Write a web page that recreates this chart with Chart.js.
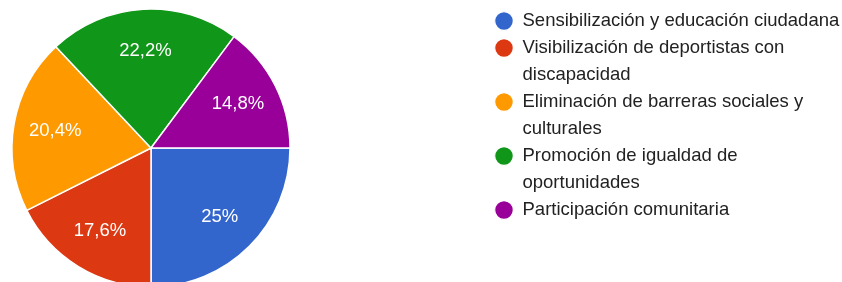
<!DOCTYPE html>
<html>
<head>
<meta charset="utf-8">
<script src="https://cdn.jsdelivr.net/npm/chart.js@4.4.1/dist/chart.umd.min.js"></script>
<style>
  html, body { margin: 0; padding: 0; background: #fff; overflow: hidden; }
</style>
</head>
<body>
<canvas id="pieChart" width="842" height="282"></canvas>
<script>
// categories (wrapped the way the legend shows them)
const labels = [
  ["Sensibilización y educación ciudadana"],
  ["Visibilización de deportistas con", "discapacidad"],
  ["Eliminación de barreras sociales y", "culturales"],
  ["Promoción de igualdad de", "oportunidades"],
  ["Participación comunitaria"]
];
// share of answers, in %
const percentages = [25, 17.6, 20.4, 22.2, 14.8];
const colors = ["#3366cc", "#dc3912", "#ff9900", "#109618", "#990099"];

const fontFamily = "'Liberation Sans', Arial, Helvetica, sans-serif";
Chart.defaults.font.family = fontFamily;

function formatPct(v) {
  return v.toFixed(1).replace(/\.0$/, "").replace(".", ",") + "%";
}

// legend box gets a fixed width so it starts where the reference has it,
// and the pie area is re-centred so the pie sits at the far left
const placeBoxes = {
  id: "placeBoxes",
  beforeInit(chart) {
    const fit = chart.legend.fit;
    chart.legend.fit = function () {
      fit.call(this);
      this.width = 347.25;
    };
  },
  afterLayout(chart) {
    const a = chart.chartArea;
    a.left = 2 * 151 - a.right;
    a.bottom = 2 * 148 - a.top;
    a.width = a.right - a.left;
    a.height = a.bottom - a.top;
  }
};

// percentage text inside each slice
const sliceLabels = {
  id: "sliceLabels",
  afterDatasetsDraw(chart) {
    const ctx = chart.ctx;
    const meta = chart.getDatasetMeta(0);
    ctx.save();
    ctx.fillStyle = "#fff";
    ctx.font = "18.5px " + fontFamily;
    ctx.textAlign = "center";
    ctx.textBaseline = "middle";
    meta.data.forEach(function (arc, i) {
      const p = arc.getProps(["x", "y", "startAngle", "endAngle", "outerRadius"], true);
      const mid = (p.startAngle + p.endAngle) / 2;
      const r = p.outerRadius * 0.7;
      ctx.fillText(formatPct(percentages[i]), p.x + Math.cos(mid) * r, p.y + Math.sin(mid) * r);
    });
    ctx.restore();
  }
};

new Chart(document.getElementById("pieChart").getContext("2d"), {
  type: "pie",
  data: {
    labels: labels,
    datasets: [
      {
        data: percentages,
        backgroundColor: colors,
        borderColor: "#ffffff",
        borderWidth: 1.5,
        radius: 139,
        hoverOffset: 0,
        clip: false,
      },
    ],
  },
  options: {
    responsive: false,
    animation: false,
    rotation: 90,
    layout: {
      padding: { left: 0, right: 0, top: 11.75, bottom: 0 },
    },
    plugins: {
      tooltip: { enabled: false },
      legend: {
        position: "right",
        align: "start",
        labels: {
          usePointStyle: true,
          pointStyle: "circle",
          boxWidth: 18.5,
          boxHeight: 13.4,
          padding: 0,
          color: "#222222",
          font: { size: 18.5, lineHeight: "27px" },
        },
      },
    },
  },
  plugins: [placeBoxes, sliceLabels],
});
</script>
</body>
</html>
